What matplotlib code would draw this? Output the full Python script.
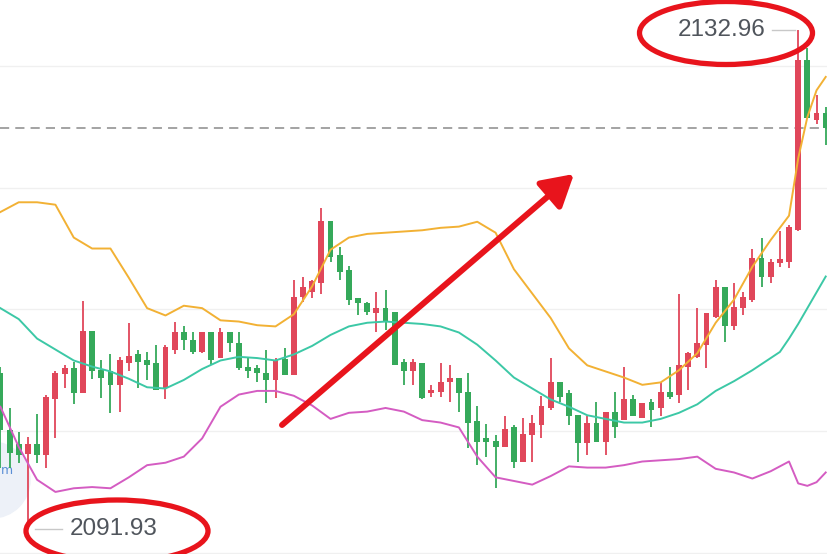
import numpy as np
import matplotlib.pyplot as plt
from matplotlib.patches import Ellipse

## candle data, one entry per bar (open, high, low, close)
opens = [2104.8, 2100.1, 2098.9, 2098.1, 2098.9, 2098.0, 2102.6, 2104.7, 2105.2, 2103.1,
         2108.2, 2105.0, 2104.9, 2103.8, 2105.6, 2106.3, 2105.8, 2105.6, 2103.5, 2106.7,
         2108.1, 2107.5, 2106.5, 2108.1, 2106.0, 2108.1, 2107.2, 2105.3, 2105.2, 2104.8,
         2104.2, 2105.9, 2104.6, 2111.0, 2111.4, 2112.2, 2117.3, 2114.5, 2113.2, 2110.9,
         2110.5, 2109.7, 2110.1, 2109.8, 2105.7, 2104.9, 2105.6, 2103.1, 2103.2, 2104.0,
         2104.4, 2103.2, 2100.8, 2099.4, 2099.2, 2098.7, 2100.3, 2097.5, 2099.7, 2100.5,
         2101.9, 2104.0, 2103.1, 2101.3, 2099.0, 2100.7, 2099.1, 2101.6, 2100.9, 2102.6,
         2101.1, 2102.4, 2101.9, 2103.2, 2103.0, 2105.3, 2106.1, 2107.1, 2109.4, 2111.8,
         2108.6, 2110.1, 2110.8, 2114.2, 2112.7, 2113.8, 2113.9, 2116.5, 2130.5, 2125.6,
         2126.1]
highs = [2105.3, 2101.9, 2099.9, 2099.5, 2101.4, 2103.0, 2104.9, 2105.4, 2105.7, 2110.7,
         2108.2, 2105.8, 2106.3, 2106.1, 2108.9, 2106.7, 2106.5, 2107.1, 2107.1, 2109.0,
         2108.6, 2108.1, 2108.1, 2108.1, 2108.5, 2108.1, 2108.1, 2106.0, 2105.4, 2106.7,
         2106.0, 2106.8, 2112.4, 2112.7, 2112.4, 2118.3, 2117.3, 2115.1, 2113.6, 2110.9,
         2110.6, 2111.4, 2111.6, 2109.8, 2105.9, 2105.9, 2105.6, 2103.8, 2105.6, 2105.4,
         2104.4, 2104.8, 2102.1, 2100.6, 2099.7, 2101.2, 2100.5, 2101.1, 2101.3, 2102.9,
         2106.0, 2104.0, 2103.4, 2101.3, 2101.2, 2102.4, 2101.6, 2103.2, 2105.3, 2103.0,
         2102.3, 2102.6, 2104.0, 2105.3, 2111.3, 2106.5, 2110.1, 2109.7, 2112.4, 2111.8,
         2112.2, 2111.4, 2115.0, 2115.9, 2114.1, 2116.4, 2116.9, 2132.96, 2131.5, 2127.6,
         2126.6]
lows = [2097.0, 2097.0, 2097.4, 2091.93, 2097.4, 2097.0, 2099.4, 2103.5, 2102.2, 2103.1,
        2104.3, 2102.7, 2101.5, 2101.6, 2104.9, 2103.5, 2104.2, 2103.4, 2102.6, 2106.3,
        2106.7, 2106.3, 2106.4, 2105.4, 2106.0, 2106.5, 2105.0, 2104.4, 2104.0, 2102.3,
        2102.7, 2104.6, 2104.6, 2110.6, 2110.9, 2111.3, 2113.9, 2112.4, 2110.4, 2109.5,
        2109.5, 2108.1, 2108.3, 2105.4, 2103.8, 2103.8, 2102.6, 2102.8, 2102.8, 2102.4,
        2101.6, 2098.6, 2097.2, 2097.9, 2095.3, 2098.7, 2097.0, 2097.5, 2097.5, 2099.4,
        2101.7, 2102.4, 2100.5, 2097.5, 2098.0, 2099.1, 2098.0, 2099.4, 2100.9, 2101.2,
        2101.1, 2100.3, 2101.2, 2102.6, 2102.3, 2103.4, 2106.0, 2105.2, 2109.3, 2107.3,
        2108.3, 2109.5, 2110.6, 2111.8, 2112.2, 2113.5, 2113.4, 2116.4, 2125.7, 2125.2,
        2123.5]
closes = [2100.1, 2098.2, 2098.0, 2098.9, 2098.0, 2102.8, 2104.8, 2105.2, 2103.1, 2108.2,
          2104.9, 2104.4, 2103.8, 2105.8, 2106.2, 2105.7, 2105.4, 2103.4, 2106.9, 2108.1,
          2107.5, 2106.5, 2108.1, 2105.8, 2108.1, 2107.2, 2105.2, 2104.9, 2104.8, 2104.2,
          2105.8, 2104.6, 2111.0, 2111.8, 2112.3, 2117.3, 2114.3, 2113.1, 2110.8, 2110.5,
          2109.8, 2110.1, 2109.0, 2105.4, 2104.9, 2105.7, 2102.7, 2103.4, 2104.0, 2104.4,
          2103.1, 2100.7, 2099.1, 2099.1, 2098.7, 2100.2, 2097.5, 2099.8, 2100.7, 2102.1,
          2104.0, 2102.8, 2101.2, 2099.0, 2100.7, 2099.1, 2101.6, 2100.3, 2102.6, 2101.2,
          2102.3, 2101.7, 2103.2, 2102.8, 2105.4, 2106.4, 2107.2, 2109.7, 2111.8, 2108.6,
          2110.2, 2111.0, 2114.2, 2112.7, 2113.9, 2114.1, 2116.8, 2130.5, 2125.7, 2126.1,
          2124.9]

## bollinger bands at these bar positions
band_idx = [0, 2, 4, 6, 8, 10, 12, 14, 16, 18, 20, 22, 24, 26, 28, 30, 32, 34, 36, 38,
            40, 42, 44, 46, 48, 50, 52, 54, 56, 58, 60, 62, 64, 66, 68, 70, 72, 74, 76, 78,
            80, 82, 84, 85, 86, 87, 88, 89, 90]
upper = [2118.0, 2118.8, 2118.8, 2118.6, 2115.9, 2115.0, 2115.0, 2112.6, 2110.1, 2109.5,
         2110.3, 2110.1, 2109.1, 2109.0, 2108.7, 2108.6, 2109.6, 2111.9, 2114.9, 2115.9,
         2116.2, 2116.3, 2116.4, 2116.5, 2116.7, 2116.8, 2117.2, 2116.3, 2113.3, 2111.3,
         2109.3, 2106.8, 2105.4, 2104.9, 2104.4, 2103.8, 2104.0, 2105.0, 2106.4, 2108.9,
         2110.8, 2113.5, 2115.7, 2116.7, 2117.7, 2122.4, 2125.8, 2128.0, 2129.1]
middle = [2110.1, 2109.2, 2107.6, 2106.7, 2105.8, 2105.3, 2104.9, 2104.3, 2103.6, 2103.5,
          2104.2, 2105.1, 2105.8, 2106.1, 2106.0, 2105.8, 2106.3, 2107.0, 2107.9, 2108.6,
          2108.9, 2109.0, 2108.9, 2108.8, 2108.6, 2108.1, 2107.1, 2105.8, 2104.4, 2103.5,
          2102.6, 2102.0, 2101.3, 2101.0, 2100.7, 2100.7, 2101.0, 2101.5, 2102.2, 2103.3,
          2104.1, 2105.0, 2106.0, 2106.5, 2107.6, 2108.8, 2110.1, 2111.4, 2112.7]
lower = [2102.0, 2098.7, 2096.0, 2095.0, 2095.3, 2095.4, 2095.3, 2096.2, 2097.2, 2097.4,
         2097.9, 2099.4, 2102.0, 2103.0, 2103.3, 2103.3, 2102.9, 2102.1, 2101.0, 2101.5,
         2101.6, 2101.9, 2101.6, 2100.9, 2100.7, 2100.3, 2097.9, 2096.2, 2095.9, 2095.6,
         2096.3, 2097.1, 2097.0, 2097.0, 2097.2, 2097.5, 2097.6, 2097.7, 2097.9, 2096.9,
         2096.6, 2096.1, 2096.7, 2097.1, 2097.5, 2095.7, 2095.5, 2095.8, 2096.6]

grid_levels = [2090, 2100, 2110, 2120, 2130]

RED = '#e0475a'
GREEN = '#35a95a'
ANNOT = '#e8141c'

fig = plt.figure(figsize=(8.28, 5.54), dpi=100)
ax = fig.add_axes([0, 0, 1, 1])

o = np.array(opens); h = np.array(highs); l = np.array(lows); c = np.array(closes)
x = np.arange(len(o))
up = c >= o
cols = np.where(up, RED, GREEN)

for g in grid_levels:   ##faint horizontal grid
    ax.axhline(g, color='#f0f0f0', lw=1.0, zorder=0)

## faint round button sitting at lower left, mostly off screen
ax.add_patch(Ellipse((-8/828, 1 - 480/554), 76/828, 76/554, transform=ax.transAxes,
                     color='#edf1f8', zorder=0.5))
ax.text(1/828, 1 - 470/554, 'm', color='#5b8fd6', fontsize=9, ha='left', va='center',
        transform=ax.transAxes, zorder=0.6)

ax.vlines(x, l, h, colors=cols, lw=1.3, zorder=2)
body_lo = np.minimum(o, c)
body_h = np.maximum(np.abs(c - o), 0.12)
ax.bar(x, body_h, bottom=body_lo, width=0.64, color=cols, zorder=3)

ax.plot(band_idx, upper, color='#f2b134', lw=1.4, zorder=4)
ax.plot(band_idx, middle, color='#3cc8a6', lw=1.4, zorder=4)
ax.plot(band_idx, lower, color='#d45cc2', lw=1.4, zorder=4)

## last price dashed line
ax.axhline(closes[-1], color='#8a8a8a', lw=1.1, ls=(0, (6, 4)), zorder=1)

## high / low labels
hi = int(np.argmax(h)); lo = int(np.argmin(l))
ax.plot([hi - 2.9, hi - 0.3], [h[hi], h[hi]], color='#c8c8c8', lw=1.0, zorder=2)
ax.text(hi - 3.6, h[hi], f'{h[hi]:.2f}', ha='right', va='center', fontsize=17.5,
        family='Liberation Sans', color='#50555c', zorder=5)
ax.plot([lo + 0.8, lo + 3.7], [l[lo], l[lo]], color='#c8c8c8', lw=1.0, zorder=2)
ax.text(lo + 4.6, l[lo], f'{l[lo]:.2f}', ha='left', va='center', fontsize=17.5,
        family='Liberation Sans', color='#50555c', zorder=5)

## red hand drawn marks
ax.add_patch(Ellipse((726/828, 1 - 33/554), 173/828, 63/554, transform=ax.transAxes,
                     fill=False, ec=ANNOT, lw=3.8, zorder=6))
ax.add_patch(Ellipse((117/828, 1 - 531/554), 182/828, 62/554, transform=ax.transAxes,
                     fill=False, ec=ANNOT, lw=3.8, zorder=6))
ax.annotate('', xy=(574/828, 1 - 174/554), xytext=(282/828, 1 - 425/554),
            xycoords='axes fraction', textcoords='axes fraction',
            arrowprops=dict(arrowstyle='-|>,head_length=0.95,head_width=0.55', color=ANNOT,
                            lw=4.3, mutation_scale=20, shrinkA=0, shrinkB=0), zorder=7)

ax.set_xlim(-0.044, 90.25)
ax.set_ylim(2089.9, 2135.42)
ax.axis('off')

fig.savefig('out.png', dpi=100)
